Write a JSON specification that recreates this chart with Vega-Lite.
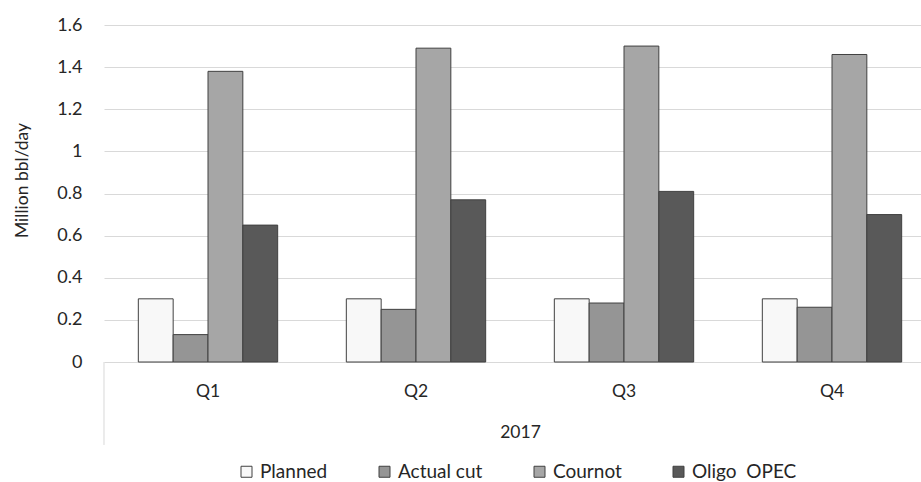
{
  "$schema": "https://vega.github.io/schema/vega-lite/v6.json",
  "width": 817,
  "height": 337,
  "autosize": {"type": "none"},
  "padding": {"left": 104, "top": 25, "right": 0, "bottom": 120},
  "background": "white",
  "config": {"view": {"stroke": null}, "font": "Lato"},
  "data": {
    "values": [
      {"quarter": "Q1", "series": "Planned", "value": 0.30},
      {"quarter": "Q1", "series": "Actual cut", "value": 0.13},
      {"quarter": "Q1", "series": "Cournot", "value": 1.38},
      {"quarter": "Q1", "series": "Oligo  OPEC", "value": 0.65},
      {"quarter": "Q2", "series": "Planned", "value": 0.30},
      {"quarter": "Q2", "series": "Actual cut", "value": 0.25},
      {"quarter": "Q2", "series": "Cournot", "value": 1.49},
      {"quarter": "Q2", "series": "Oligo  OPEC", "value": 0.77},
      {"quarter": "Q3", "series": "Planned", "value": 0.30},
      {"quarter": "Q3", "series": "Actual cut", "value": 0.28},
      {"quarter": "Q3", "series": "Cournot", "value": 1.50},
      {"quarter": "Q3", "series": "Oligo  OPEC", "value": 0.81},
      {"quarter": "Q4", "series": "Planned", "value": 0.30},
      {"quarter": "Q4", "series": "Actual cut", "value": 0.26},
      {"quarter": "Q4", "series": "Cournot", "value": 1.46},
      {"quarter": "Q4", "series": "Oligo  OPEC", "value": 0.70}
    ]
  },
  "encoding": {
    "x": {
      "field": "quarter",
      "type": "nominal",
      "title": "2017",
      "scale": {"range": [0, 832], "paddingInner": 0.33, "paddingOuter": 0.165},
      "axis": {
        "labelAngle": 0,
        "ticks": false,
        "domain": false,
        "labelFontSize": 17.5,
        "labelColor": "#262626",
        "labelPadding": 20,
        "titleFontSize": 17.5,
        "titleFontWeight": "normal",
        "titleColor": "#262626",
        "titleX": 416,
        "titleY": 70,
        "titleBaseline": "middle"
      }
    },
    "y": {
      "field": "value",
      "type": "quantitative",
      "title": "Million bbl/day",
      "scale": {"domain": [0, 1.6]},
      "axis": {
        "values": [0, 0.2, 0.4, 0.6, 0.8, 1, 1.2, 1.4, 1.6],
        "format": "~g",
        "ticks": false,
        "domain": false,
        "gridColor": "#d9d9d9",
        "gridWidth": 1,
        "labelFontSize": 18,
        "labelColor": "#262626",
        "labelPadding": 22,
        "titleFontSize": 17.5,
        "titleFontWeight": "normal",
        "titleColor": "#262626",
        "titleX": -82,
        "titleY": 155,
        "titleAngle": -90,
        "titleBaseline": "middle",
        "titleAlign": "center"
      }
    }
  },
  "layer": [
    {
      "mark": {"type": "bar", "stroke": "#404040", "strokeWidth": 1},
      "encoding": {
        "xOffset": {
          "field": "series",
          "type": "nominal",
          "sort": ["Planned", "Actual cut", "Cournot", "Oligo  OPEC"],
          "scale": {"paddingInner": 0, "paddingOuter": 0}
        },
        "fill": {
          "field": "series",
          "type": "nominal",
          "sort": ["Planned", "Actual cut", "Cournot", "Oligo  OPEC"],
          "scale": {
            "domain": ["Planned", "Actual cut", "Cournot", "Oligo  OPEC"],
            "range": ["#f8f8f8", "#959595", "#a6a6a6", "#595959"]
          },
          "legend": {
            "title": null,
            "orient": "none",
            "direction": "horizontal",
            "legendX": 133,
            "legendY": 437,
            "symbolType": "square",
            "symbolSize": 121,
            "symbolStrokeColor": "#404040",
            "symbolStrokeWidth": 1,
            "labelFontSize": 19,
            "labelColor": "#262626",
            "labelOffset": 4,
            "columnPadding": 47,
            "labelExpr": "replace(datum.label, '  ', '\u00a0 ')"
          }
        }
      }
    },
    {
      "data": {"values": [{"quarter": "Q1", "top": 0, "bottom": -0.394}]},
      "mark": {"type": "rule", "color": "#d9d9d9", "strokeWidth": 1},
      "encoding": {
        "x": {"field": "quarter", "type": "nominal", "bandPosition": -0.2463},
        "y": {"field": "top", "type": "quantitative"},
        "y2": {"field": "bottom"}
      }
    }
  ]
}
